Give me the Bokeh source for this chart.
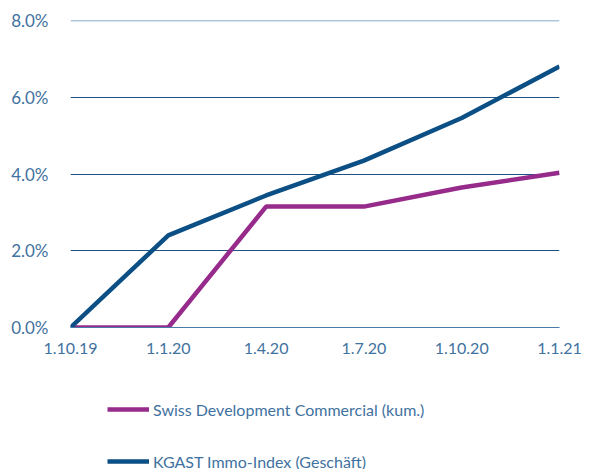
from bokeh.plotting import figure
from bokeh.layouts import column
from bokeh.models import Legend, LegendItem, FixedTicker, Range1d, Span
from bokeh.embed import file_html
from bokeh.resources import INLINE

dates = ["1.10.19", "1.1.20", "1.4.20", "1.7.20", "1.10.20", "1.1.21"]
swiss_dev = [0.0, 0.0, 3.15, 3.15, 3.65, 4.03]
kgast = [0.0, 2.40, 3.44, 4.35, 5.46, 6.80]
y_ticks = [0, 2, 4, 6, 8]
series_names = ["Swiss Development Commercial (kum.)", "KGAST Immo-Index (Geschäft)"]
series_colors = ["#962b8c", "#0b4f85"]

x = list(range(len(dates)))
text_color = "#3f72a0"
font = "Lato"

p = figure(width=593, height=370, output_backend="svg", toolbar_location=None,
           x_range=Range1d(0, len(dates) - 1), y_range=Range1d(0, 8),
           min_border_left=70, min_border_right=34, min_border_top=20,
           min_border_bottom=43)
p.outline_line_color = None
p.xgrid.grid_line_color = None
p.ygrid.ticker = FixedTicker(ticks=y_ticks[1:-1])
p.ygrid.grid_line_color = "#1f5281"
p.ygrid.grid_line_width = 1
p.add_layout(Span(location=y_ticks[-1], dimension="width",
                  line_color="#5f90bd", line_width=1.3))

p.yaxis.ticker = FixedTicker(ticks=y_ticks)
p.yaxis.major_label_overrides = {t: f"{t:.1f}%" for t in y_ticks}
p.xaxis.ticker = FixedTicker(ticks=x)
p.xaxis.major_label_overrides = {i: d for i, d in enumerate(dates)}

for ax in (p.xaxis[0], p.yaxis[0]):
    ax.major_tick_line_color = None
    ax.minor_tick_line_color = None
    ax.major_label_text_color = text_color
    ax.major_label_text_font = font
p.xaxis.major_label_text_font_size = "16px"
p.yaxis.major_label_text_font_size = "17px"
p.yaxis.axis_line_color = None
p.xaxis.axis_line_color = "#4a7aa6"
p.xaxis.axis_line_width = 1.2
p.xaxis.major_label_standoff = 9
p.yaxis.major_label_standoff = 16

p.line(x, swiss_dev, line_color=series_colors[0], line_width=4.5)
p.line(x, kgast, line_color=series_colors[1], line_width=4.5)

# Legend strip underneath the chart
lg = figure(width=593, height=99, output_backend="svg", toolbar_location=None,
            x_range=Range1d(0, 1), y_range=Range1d(0, 1),
            x_axis_type=None, y_axis_type=None,
            min_border=0, min_border_left=0, min_border_right=0,
            min_border_top=0, min_border_bottom=0)
lg.grid.visible = False
lg.outline_line_color = None
items = []
for name, col in zip(series_names, series_colors):
    r = lg.line([5, 6], [5, 6], line_color=col, line_width=4.5)
    items.append(LegendItem(label=name, renderers=[r]))

legend = Legend(items=items, orientation="vertical", spacing=32,
                glyph_width=42, glyph_height=20, label_height=20,
                label_standoff=4, label_text_font=font,
                label_text_font_size="16px", label_text_color=text_color,
                border_line_color=None, background_fill_alpha=0,
                margin=0, padding=0, location=(37, -2))
lg.add_layout(legend, "center")

layout = column(p, lg, spacing=0)
open("out.html", "w").write(file_html(layout, INLINE))
